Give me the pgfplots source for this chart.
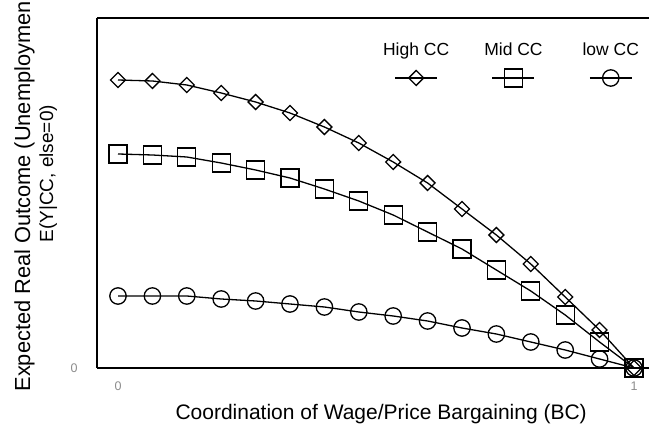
\documentclass[border=0pt]{standalone}
\usepackage{fontspec}
\setmainfont{Liberation Sans}
\usepackage{pgfplots}
\pgfplotsset{compat=1.18}

% legend entry: label above a short line with the series mark in its middle
\pgfplotsset{ccleg/.style={legend image code/.code={
  \draw[##1] (-21pt,0pt) -- (21pt,0pt);
  \draw[##1] plot coordinates {(0pt,0pt)};
  \node[overlay, anchor=base, text=black, font=\fontsize{17.5}{20}\selectfont] at (0pt,22pt) {#1};
}}}

\begin{document}
\begin{tikzpicture}[x=1pt,y=1pt]
\begin{axis}[
  at={(97pt,62pt)}, anchor=south west,
  scale only axis, width=552pt, height=350pt,
  xmin=-0.0407, xmax=1.0291, ymin=0, ymax=350,
  axis x line*=bottom, axis y line*=left,
  x axis line style={line width=2.6pt,-},
  y axis line style={line width=1.8pt,-},
  xtick={0,1}, ytick={0},
  major tick length=0pt,
  tick label style={font=\fontsize{12.5}{14}\selectfont, text=black!45},
  /pgf/number format/assume math mode=true,
  xticklabel style={yshift=-10pt},
  yticklabel style={xshift=-16pt},
  clip=false,
  legend style={draw=none, fill=none, legend columns=3,
    at={(axis cs:0.7674,290)}, anchor=center,
    nodes={inner sep=0pt},
    /tikz/every even column/.append style={column sep=53pt}},
]
\draw[line width=1.5pt] (rel axis cs:0,1) -- (rel axis cs:1,1);

\addplot[black, line width=1.3pt, mark=square, mark size=5.3pt,
  mark options={rotate=45, line width=1.3pt}, ccleg={High CC}]
  coordinates {
  (0,288) (0.0667,287) (0.1333,283) (0.2,275) (0.2667,266) (0.3333,255)
  (0.4,241) (0.4667,225) (0.5333,206) (0.6,185) (0.6667,159) (0.7333,133)
  (0.8,104) (0.8667,71) (0.9333,38) (1,0)};
\addlegendentry{}

\addplot[black, line width=1.3pt, mark=square, mark size=9pt,
  mark options={line width=1.3pt}, ccleg={Mid CC}]
  coordinates {
  (0,214) (0.0667,213) (0.1333,211) (0.2,205) (0.2667,198) (0.3333,190)
  (0.4,179) (0.4667,167) (0.5333,153) (0.6,136) (0.6667,119) (0.7333,98)
  (0.8,77) (0.8667,53) (0.9333,26) (1,0)};
\addlegendentry{}

\addplot[black, line width=1.3pt, mark=o, mark size=8.2pt,
  mark options={line width=1.3pt}, ccleg={low CC}]
  coordinates {
  (0,72) (0.0667,72) (0.1333,72) (0.2,69) (0.2667,67) (0.3333,64)
  (0.4,61) (0.4667,56) (0.5333,52) (0.6,47) (0.6667,40) (0.7333,34)
  (0.8,26) (0.8667,18) (0.9333,9) (1,0)};
\addlegendentry{}
\end{axis}

% axis titles
\node[rotate=90, anchor=base west, font=\fontsize{21.8}{24}\selectfont]
  at (30pt,35pt) {Expected Real Outcome (Unemploymen};
\node[rotate=90, anchor=base west, font=\fontsize{19}{21}\selectfont]
  at (53pt,184pt) {E(Y|CC, else=0)};
\node[anchor=base west, font=\fontsize{21}{23}\selectfont]
  at (172pt,10pt) {Coordination of Wage/Price Bargaining (BC)};

\pgfresetboundingbox
\path[use as bounding box] (0pt,0pt) rectangle (649pt,430pt);
\end{tikzpicture}
\end{document}
